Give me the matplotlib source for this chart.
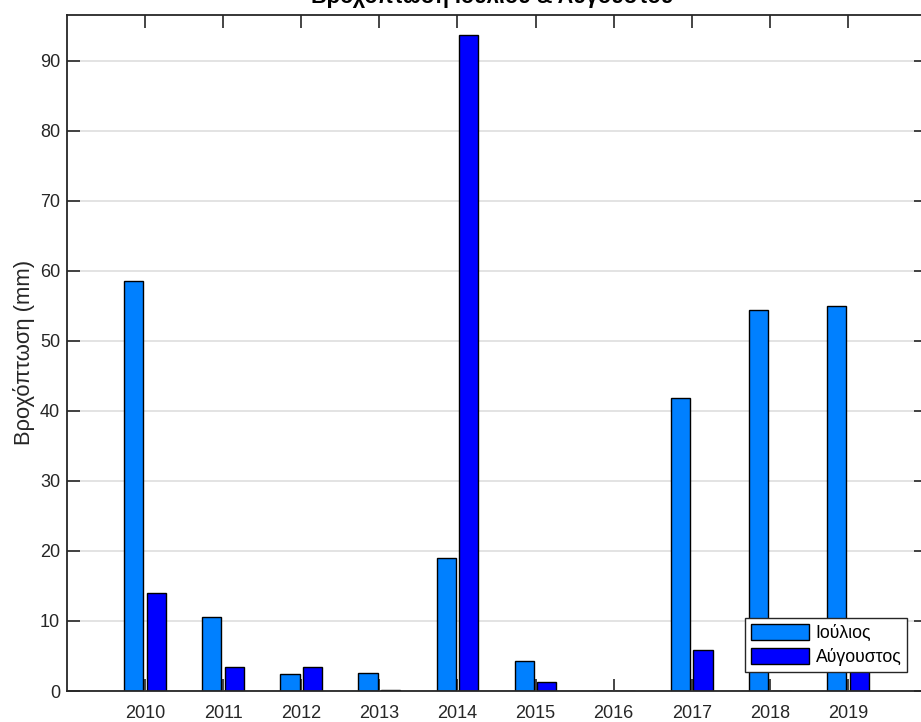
import matplotlib
matplotlib.use("Agg")
import matplotlib.pyplot as plt
import numpy as np

years = [2010, 2011, 2012, 2013, 2014, 2015, 2016, 2017, 2018, 2019]
july = [58.6, 10.6, 2.4, 2.6, 19.0, 4.3, 0.0, 41.9, 54.4, 55.0]
august = [14.0, 3.4, 3.4, 0.2, 93.7, 1.3, 0.0, 5.9, 0.0, 4.0]
series_labels = ["Ιούλιος", "Αύγουστος"]
title = "Βροχόπτωση Ιουλίου & Αυγούστου"
ylabel = "Βροχόπτωση (mm)"

plt.rcParams['font.family'] = ['Liberation Sans', 'DejaVu Sans']
FS = 13.0
txt = '#262626'

fig = plt.figure(figsize=(9.21, 7.22), dpi=100)
ax = fig.add_axes([67/921, 31/722, 859/921, 676.3/722])

x = np.array(years, dtype=float)
w = 0.245
off = 0.145
ax.bar(x - off, july, width=w, color='#0080FF', edgecolor='black', linewidth=1.0,
       label=series_labels[0], zorder=2)
ax.bar(x + off, august, width=w, color='#0000FF', edgecolor='black', linewidth=1.0,
       label=series_labels[1], zorder=2)

ax.set_xlim(2009, 2020)
ax.set_ylim(0, 96.6)
ax.set_xticks(years)
ax.set_xticklabels([str(y) for y in years])
ax.set_yticks(np.arange(0, 91, 10))
ax.yaxis.grid(True, color='#dedede', linewidth=1.2, zorder=0)
ax.set_axisbelow(True)

ax.tick_params(direction='in', length=9, width=1.2, colors=txt, labelsize=FS,
               top=True, right=True, labelcolor=txt)
ax.tick_params(axis='x', pad=10)
ax.tick_params(axis='y', pad=5)
for s in ax.spines.values():
    s.set_color(txt)
    s.set_linewidth(1.3)

ax.set_ylabel(ylabel, fontsize=15.8, color=txt)
ax.yaxis.set_label_coords(-(67 - 35) / 859, 0.5)

fig.text(492/921, 1 - 3.5/722, title, ha='center', va='baseline',
         fontsize=15.6, fontweight='bold', color='black')

leg = ax.legend(loc='lower right', fontsize=12.7, frameon=True, fancybox=False,
                edgecolor=txt, framealpha=1, handlelength=3.3, handleheight=1.05,
                handletextpad=0.35, labelspacing=0.35, borderpad=0.35,
                borderaxespad=1.05)
leg.get_frame().set_linewidth(1.0)
for t in leg.get_texts():
    t.set_color('black')

fig.savefig("out.png", dpi=100)
